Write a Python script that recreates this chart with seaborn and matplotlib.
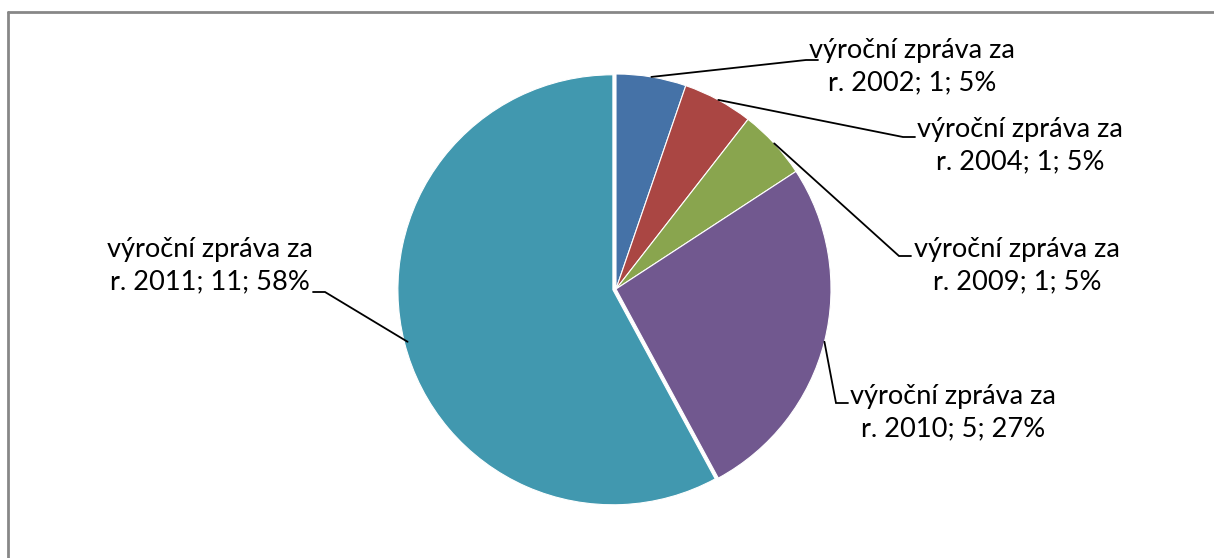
import numpy as np
import matplotlib
matplotlib.use("Agg")
import matplotlib.pyplot as plt
import seaborn as sns

# data
years = ["2002", "2004", "2009", "2010", "2011"]
counts = [1, 1, 1, 5, 11]
percents = ["5%", "5%", "5%", "27%", "58%"]
colors = ["#4572A7", "#AA4643", "#89A54E", "#71588F", "#4198AF"]

# label block centres and leader elbows (pixel layout, y from top)
label_pos = [(912, 67), (1020, 146), (1017, 266), (953, 413), (210, 266)]
elbows = [(806, 60), (903, 137), (899, 256), (836, 403), (325, 292)]

W, H = 1214, 558
sns.set_theme(style="white")
plt.rcParams["font.family"] = ["Lato", "DejaVu Sans"]

fig = plt.figure(figsize=(W / 100, H / 100), dpi=100)
ax = fig.add_axes([0, 0, 1, 1])
ax.set_axis_off()

cx, cy, r = 616, H - 289, 215
# explode is in data units here (axes are in pixels), so ~3 px offset
explode = [0, 0, 0, 0, 3.2]
wedges, _ = ax.pie(counts, colors=colors, startangle=90, counterclock=False,
                   center=(cx, cy), radius=r, explode=explode,
                   wedgeprops=dict(edgecolor="white", linewidth=0.8))
ax.set_xlim(0, W)
ax.set_ylim(0, H)
ax.set_aspect("equal")

total = sum(counts)
start = 90.0
for i, (yr, n, pc) in enumerate(zip(years, counts, percents)):
    span = n / total * 360
    mid = np.deg2rad(start - span / 2)
    start -= span
    px, py = cx + r * np.cos(mid), cy + r * np.sin(mid)
    ex, ey = elbows[i]
    ey = H - ey
    hx = ex + 12 if ex > cx else ex - 12
    ax.plot([px, ex, hx], [py, ey, ey], color="black", lw=1.3,
            solid_joinstyle="miter")
    tx, ty = label_pos[i]
    ax.text(tx, H - ty, f"výroční zpráva za\nr. {yr}; {n}; {pc}",
            ha="center", va="center", multialignment="center",
            fontsize=19.6, linespacing=1.38, color="black")

# chart frame (only top and left edges visible in the crop)
ax.plot([8, W], [H - 12, H - 12], color="#878787", lw=2, clip_on=False)
ax.plot([8, 8], [H - 12, 0], color="#878787", lw=2, clip_on=False)

fig.savefig("out.png", dpi=100, facecolor="white")
